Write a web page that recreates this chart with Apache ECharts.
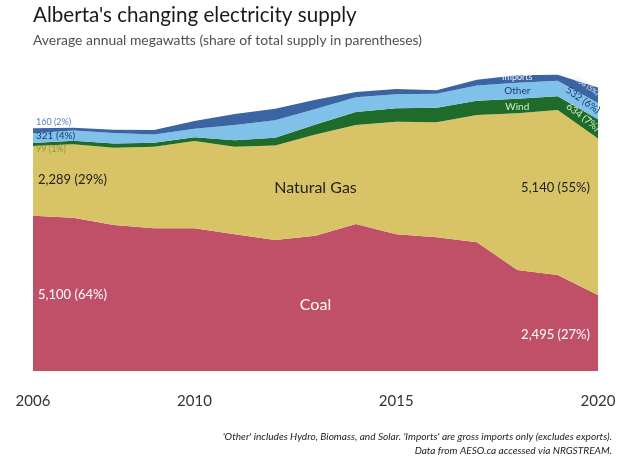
<!DOCTYPE html>
<html>
<head>
<meta charset="utf-8">
<script src="https://cdn.jsdelivr.net/npm/echarts@6/dist/echarts.min.js"></script>
<style>
html,body{margin:0;padding:0;background:#fff;}
#c{width:620px;height:465px;}
</style>
</head>
<body>
<div id="c"></div>
<script>
// ---- data (average annual MW) ----
const years = ['2006','2007','2008','2009','2010','2011','2012','2013','2014','2015','2016','2017','2018','2019','2020'];
const coal    = [5100, 5035, 4795, 4686, 4686, 4489, 4302, 4443, 4828, 4489, 4391, 4227, 3317, 3153, 2495];
const gas     = [2289, 2410, 2538, 2680, 2867, 2877, 3104, 3324, 3251, 3698, 3776, 4180, 5146, 5418, 5140];
const wind    = [  99,  120,  140,  130,  120,  210,  250,  330,  430,  440,  480,  470,  480,  450,  634];
const other   = [ 321,  330,  340,  270,  280,  500,  580,  510,  480,  460,  460,  500,  520,  510,  532];
const imports = [ 160,   90,  110,  150,  260,  360,  380,  300,  170,  170,  110,  190,  250,  200,  508];
const xTickLabels = ['2006','2010','2015','2020'];

const colors = {coal:'#c04f68', gas:'#d8c466', wind:'#1f6b2a', other:'#80c1e9', imports:'#3b64a2'};
const FONT = 'Lato, "Open Sans", sans-serif';

function areaSeries(name, data, color){
  return {
    name: name, type:'line', stack:'total', data:data,
    symbol:'none', smooth:false,
    lineStyle:{width:0, color:color},
    itemStyle:{color:color},
    areaStyle:{color:color, opacity:1},
    emphasis:{disabled:true}
  };
}

const chart = echarts.init(document.getElementById('c'), null, {renderer:'canvas'});
chart.setOption({
  animation:false,
  backgroundColor:'#ffffff',
  grid:{left:33, right:22, top:66.5, bottom:94},
  xAxis:{
    type:'category', data:years, boundaryGap:false,
    axisLine:{show:false}, axisTick:{show:false}, splitLine:{show:false},
    axisLabel:{
      interval:0, margin:23, fontSize:15, color:'#333', fontFamily:FONT,
      formatter:function(v){ return xTickLabels.indexOf(v) >= 0 ? v : ''; }
    }
  },
  yAxis:{
    type:'value', min:0, max:10000, show:false, splitLine:{show:false}
  },
  series:[
    areaSeries('Coal', coal, colors.coal),
    areaSeries('Natural Gas', gas, colors.gas),
    areaSeries('Wind', wind, colors.wind),
    areaSeries('Other', other, colors.other),
    areaSeries('Imports', imports, colors.imports)
  ]
});

function fmt(n){ return n.toLocaleString('en-US'); }
function total(i){ return coal[i]+gas[i]+wind[i]+other[i]+imports[i]; }
function share(arr,i){ return Math.round(arr[i]/total(i)*100) + '%'; }

// annotations anchored in data space: [category index, value]
const L = years.length-1;
const notes = [
  {t: fmt(imports[0])+' ('+share(imports,0)+')', at:[0,8177], dx:3, align:'left', size:9, color:'#5b80ba'},
  {t: fmt(other[0])+' ('+share(other,0)+')', at:[0,7718], dx:3, align:'left', size:10, color:'#1d3b73'},
  {t: fmt(wind[0])+' ('+share(wind,0)+')', at:[0,7274], dx:3, align:'left', size:9, color:'#8c9a3a'},
  {t: fmt(gas[0])+' ('+share(gas,0)+')', at:[0,6273], dx:5, align:'left', size:13, color:'#222'},
  {t: fmt(coal[0])+' ('+share(coal,0)+')', at:[0,2496], dx:5, align:'left', size:13, color:'#fff'},
  {t: 'Natural Gas', at:[7,6010], dx:0, align:'center', size:16, color:'#222'},
  {t: 'Coal', at:[7,2167], dx:0, align:'center', size:16, color:'#fff'},
  {t: fmt(gas[L])+' ('+share(gas,L)+')', at:[L,6010], dx:-8, align:'right', size:13, color:'#222'},
  {t: fmt(coal[L])+' ('+share(coal,L)+')', at:[L,1182], dx:-8, align:'right', size:13, color:'#fff'},
  {t: 'Imports', at:[12,9655], dx:0, align:'center', size:9, color:'#eef3fb'},
  {t: 'Other', at:[12,9195], dx:0, align:'center', size:10, color:'#1d3b73'},
  {t: 'Wind', at:[12,8670], dx:0, align:'center', size:10, color:'#d4ecc8'},
  {t: fmt(imports[L])+' ('+share(imports,L)+')', at:[L,9360], dx:-11, align:'center', size:7, color:'#dbe6f6', rot:-0.6},
  {t: fmt(other[L])+' ('+share(other,L)+')', at:[L,8900], dx:-15, align:'center', size:10, color:'#1d3b73', rot:-0.6},
  {t: fmt(wind[L])+' ('+share(wind,L)+')', at:[L,8341], dx:-15, align:'center', size:10, color:'#d4ecc8', rot:-0.65}
];

const graphics = [
  {type:'text', left:33, top:5, style:{text:"Alberta's changing electricity supply", fill:'#1a1a1a', font:'20.6px '+FONT}},
  {type:'text', left:33, top:34, style:{text:'Average annual megawatts (share of total supply in parentheses)', fill:'#505050', font:'13.9px '+FONT}},
  {type:'text', right:8, top:432, style:{text:"'Other' includes Hydro, Biomass, and Solar. 'Imports' are gross imports only (excludes exports).", fill:'#222', font:'italic 10.1px '+FONT, align:'right'}},
  {type:'text', right:8, top:446, style:{text:'Data from AESO.ca accessed via NRGSTREAM.', fill:'#222', font:'italic 10.1px '+FONT, align:'right'}}
];
notes.forEach(function(n){
  const p = chart.convertToPixel({gridIndex:0}, n.at);
  graphics.push({
    type:'text', x:p[0]+n.dx, y:p[1], rotation:n.rot||0,
    style:{text:n.t, fill:n.color, font:n.size+'px '+FONT, align:n.align, verticalAlign:'middle'},
    z:100
  });
});
chart.setOption({graphic:graphics});
</script>
</body>
</html>
